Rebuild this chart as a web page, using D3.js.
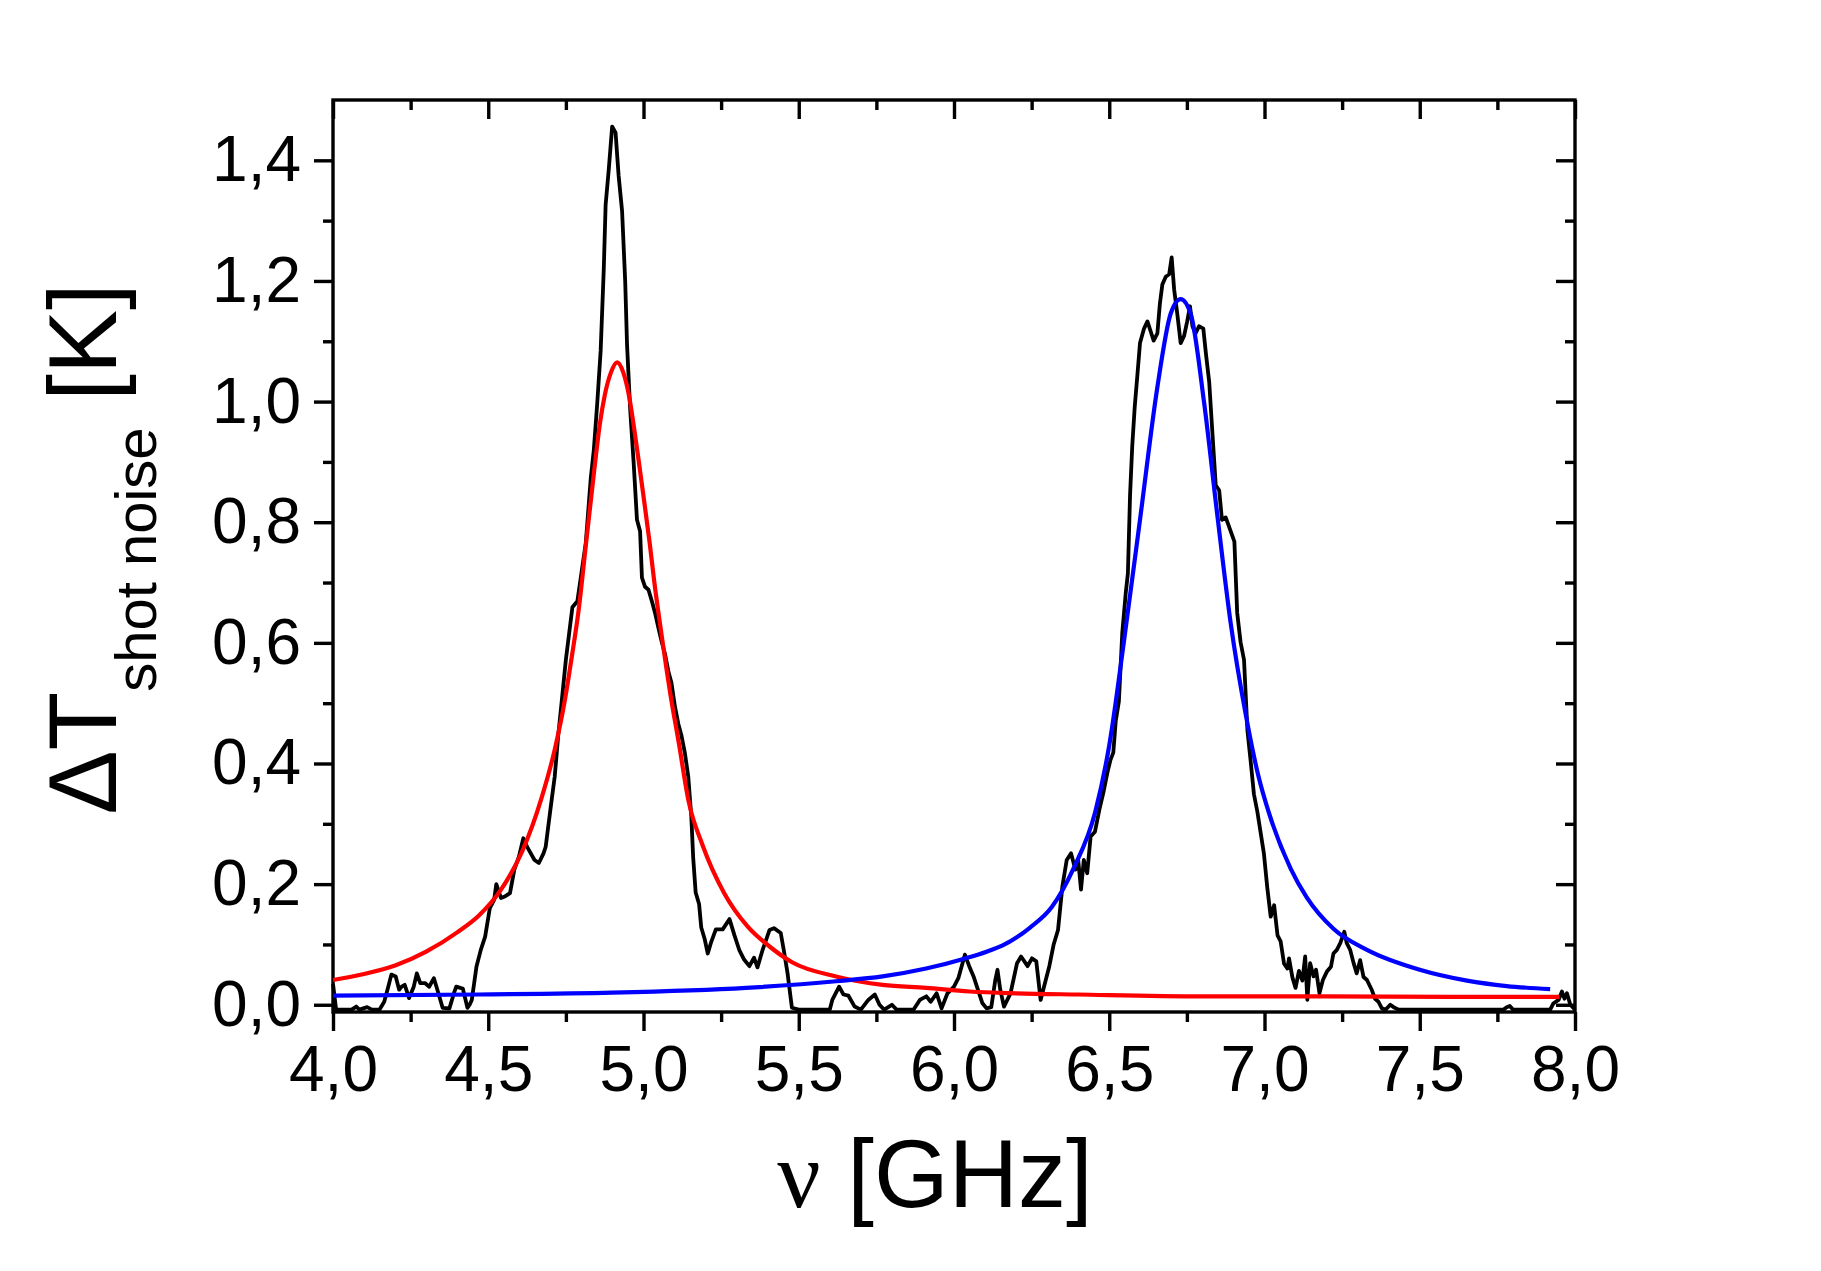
<!DOCTYPE html>
<html>
<head>
<meta charset="utf-8">
<script src="https://cdn.jsdelivr.net/npm/d3@7"></script>
<style>
  html, body { margin: 0; padding: 0; background: #fff; }
  svg { display: block; }
</style>
</head>
<body>
<svg></svg>
<script>
// ===== données : [fréquence GHz, ΔT K] ===== //
const mesure = [
  [4.000,0.035],[4.010,-0.008],[4.060,-0.008],[4.075,-0.003],[4.085,-0.008],[4.110,-0.004],[4.125,-0.008],
  [4.150,-0.008],[4.165,0.005],[4.178,0.030],[4.188,0.050],[4.202,0.047],[4.213,0.025],[4.221,0.030],
  [4.231,0.033],[4.245,0.011],[4.260,0.030],[4.270,0.052],[4.281,0.036],[4.296,0.036],[4.310,0.030],
  [4.325,0.044],[4.339,0.020],[4.353,-0.005],[4.375,-0.006],[4.390,0.020],[4.397,0.030],[4.410,0.028],
  [4.418,0.027],[4.433,-0.005],[4.440,0.000],[4.447,0.008],[4.462,0.063],[4.476,0.091],[4.490,0.113],
  [4.505,0.160],[4.519,0.174],[4.526,0.200],[4.541,0.177],[4.555,0.180],[4.570,0.185],[4.584,0.224],
  [4.599,0.246],[4.613,0.276],[4.627,0.260],[4.649,0.240],[4.663,0.235],[4.678,0.251],[4.685,0.262],
  [4.700,0.323],[4.714,0.378],[4.726,0.450],[4.736,0.500],[4.750,0.572],[4.771,0.659],[4.787,0.669],
  [4.814,0.765],[4.830,0.872],[4.840,0.920],[4.851,0.997],[4.862,1.084],[4.872,1.219],[4.878,1.326],
  [4.888,1.384],[4.899,1.456],[4.910,1.446],[4.920,1.374],[4.931,1.316],[4.941,1.200],[4.947,1.094],
  [4.957,0.988],[4.968,0.901],[4.979,0.804],[4.989,0.785],[4.995,0.708],[5.005,0.693],[5.016,0.688],
  [5.027,0.669],[5.037,0.650],[5.048,0.625],[5.059,0.601],[5.069,0.582],[5.080,0.553],[5.090,0.534],
  [5.101,0.495],[5.112,0.466],[5.122,0.447],[5.133,0.418],[5.144,0.379],[5.154,0.312],[5.160,0.244],
  [5.168,0.186],[5.179,0.167],[5.186,0.128],[5.197,0.109],[5.207,0.085],[5.218,0.104],[5.233,0.125],
  [5.255,0.125],[5.277,0.142],[5.293,0.115],[5.309,0.090],[5.324,0.075],[5.341,0.064],[5.356,0.078],
  [5.367,0.062],[5.383,0.090],[5.406,0.124],[5.420,0.127],[5.442,0.119],[5.452,0.090],[5.464,0.052],
  [5.478,-0.005],[5.500,-0.008],[5.600,-0.008],[5.608,0.008],[5.630,0.030],[5.644,0.017],[5.660,0.015],
  [5.680,-0.003],[5.700,-0.008],[5.724,0.008],[5.745,0.017],[5.760,0.000],[5.775,-0.008],[5.800,0.000],
  [5.815,-0.008],[5.870,-0.008],[5.890,0.008],[5.911,0.014],[5.925,0.005],[5.944,0.019],[5.960,-0.006],
  [5.979,0.019],[6.000,0.030],[6.014,0.044],[6.035,0.083],[6.049,0.064],[6.063,0.047],[6.077,0.025],
  [6.091,0.003],[6.105,-0.006],[6.120,-0.004],[6.133,0.041],[6.140,0.058],[6.149,0.025],[6.161,-0.003],
  [6.182,0.019],[6.203,0.069],[6.216,0.080],[6.237,0.064],[6.251,0.077],[6.265,0.072],[6.279,0.008],
  [6.293,0.036],[6.307,0.064],[6.321,0.100],[6.335,0.124],[6.349,0.196],[6.363,0.240],[6.377,0.251],
  [6.391,0.224],[6.400,0.240],[6.409,0.191],[6.418,0.240],[6.429,0.218],[6.440,0.279],[6.454,0.287],
  [6.468,0.323],[6.482,0.354],[6.494,0.385],[6.504,0.406],[6.513,0.418],[6.521,0.471],[6.531,0.503],
  [6.542,0.617],[6.553,0.682],[6.560,0.715],[6.567,0.845],[6.574,0.926],[6.582,0.991],[6.590,1.040],
  [6.599,1.097],[6.612,1.121],[6.623,1.133],[6.633,1.117],[6.643,1.101],[6.655,1.113],[6.663,1.162],
  [6.671,1.194],[6.682,1.207],[6.693,1.211],[6.701,1.239],[6.709,1.186],[6.719,1.146],[6.730,1.097],
  [6.741,1.109],[6.751,1.133],[6.760,1.158],[6.768,1.125],[6.778,1.113],[6.789,1.125],[6.803,1.121],
  [6.811,1.081],[6.822,1.032],[6.832,0.950],[6.843,0.861],[6.854,0.853],[6.863,0.804],[6.875,0.808],
  [6.889,0.788],[6.903,0.768],[6.912,0.650],[6.923,0.601],[6.934,0.572],[6.945,0.455],[6.955,0.406],
  [6.966,0.349],[6.977,0.320],[6.988,0.284],[6.998,0.251],[7.009,0.194],[7.020,0.146],[7.031,0.165],
  [7.042,0.115],[7.052,0.105],[7.063,0.068],[7.074,0.060],[7.079,0.077],[7.090,0.045],[7.100,0.028],
  [7.111,0.056],[7.122,0.040],[7.131,0.080],[7.138,0.008],[7.147,0.069],[7.158,0.047],[7.166,0.058],
  [7.177,0.019],[7.188,0.041],[7.201,0.055],[7.214,0.063],[7.222,0.085],[7.233,0.091],[7.244,0.102],
  [7.257,0.121],[7.265,0.102],[7.276,0.091],[7.287,0.069],[7.297,0.052],[7.308,0.074],[7.319,0.046],
  [7.330,0.041],[7.346,0.024],[7.356,0.010],[7.367,0.005],[7.378,-0.006],[7.390,-0.008],[7.405,0.000],
  [7.416,-0.004],[7.432,-0.008],[7.770,-0.008],[7.780,-0.004],[7.790,-0.002],[7.800,-0.008],[7.920,-0.008],
  [7.930,0.002],[7.947,0.008],[7.958,0.022],[7.966,0.010],[7.974,0.019],[7.985,0.000],[8.000,-0.008]
];

// ajustement pic 1 (rouge)
const ajustRouge = [
  [4.000,0.041],[4.100,0.051],[4.200,0.065],[4.300,0.088],[4.400,0.120],[4.470,0.148],[4.540,0.190],
  [4.610,0.255],[4.670,0.340],[4.715,0.425],[4.745,0.500],[4.770,0.580],[4.790,0.650],[4.815,0.765],
  [4.840,0.880],[4.860,0.965],[4.875,1.010],[4.895,1.048],[4.915,1.065],[4.935,1.048],[4.955,1.005],
  [4.970,0.955],[4.985,0.900],[5.000,0.843],[5.020,0.765],[5.035,0.700],[5.055,0.625],[5.085,0.520],
  [5.115,0.430],[5.145,0.338],[5.190,0.265],[5.260,0.185],[5.335,0.130],[5.405,0.097],[5.480,0.070],
  [5.620,0.047],[5.770,0.033],[5.910,0.028],[6.050,0.022],[6.200,0.019],[6.400,0.017],[6.800,0.014],
  [7.200,0.014],[7.600,0.013],[7.950,0.013]
];

// ajustement pic 2 (bleu)
const ajustBleu = [
  [4.000,0.015],[4.470,0.017],[4.900,0.020],[5.330,0.028],[5.620,0.039],[5.770,0.047],[5.910,0.060],
  [6.030,0.076],[6.105,0.088],[6.155,0.098],[6.245,0.128],[6.315,0.162],[6.385,0.226],[6.455,0.320],
  [6.500,0.430],[6.547,0.601],[6.601,0.812],[6.655,1.024],[6.698,1.146],[6.730,1.170],[6.762,1.146],
  [6.805,1.000],[6.848,0.812],[6.891,0.633],[6.940,0.480],[6.980,0.380],[7.013,0.320],[7.085,0.225],
  [7.136,0.178],[7.222,0.126],[7.330,0.091],[7.500,0.058],[7.652,0.040],[7.780,0.031],[7.920,0.026]
];

const xTicksMaj = [4.0,4.5,5.0,5.5,6.0,6.5,7.0,7.5,8.0];
const xTickLabels = ["4,0","4,5","5,0","5,5","6,0","6,5","7,0","7,5","8,0"];
const xTicksMin = [4.25,4.75,5.25,5.75,6.25,6.75,7.25,7.75];
const yTicksMaj = [0,0.2,0.4,0.6,0.8,1.0,1.2,1.4];
const yTickLabels = ["0,0","0,2","0,4","0,6","0,8","1,0","1,2","1,4"];
const yTicksMin = [0.1,0.3,0.5,0.7,0.9,1.1,1.3];

// ===== mise en page ===== //
const W = 1821, H = 1271;
const gauche = 333, droite = 1575, haut = 100, bas = 1012;
const police = "'Liberation Sans', Arial, Helvetica, sans-serif";

const svg = d3.select("svg").attr("width", W).attr("height", H);

const x = d3.scaleLinear().domain([4, 8]).range([gauche, droite]);
const y = d3.scaleLinear().domain([-0.012, 1.5]).range([bas, haut]);

// axes (majeurs + mineurs)
function axe(gen, transl, valeurs, taille, labels, padding) {
  const g = svg.append("g").attr("transform", transl)
    .call(gen.tickValues(valeurs).tickSize(taille).tickSizeOuter(0)
      .tickPadding(padding || 0)
      .tickFormat(labels ? (d, i) => labels[i] : ""));
  g.select(".domain").remove();
  g.selectAll(".tick line").attr("stroke", "#000").attr("stroke-width", 3.4);
  g.selectAll("text").attr("fill", "#000").style("font-family", police).style("font-size", "64px");
  return g;
}

axe(d3.axisBottom(x), `translate(0,${bas})`, xTicksMaj, 19, xTickLabels, 15);
axe(d3.axisBottom(x), `translate(0,${bas})`, xTicksMin, 10);
axe(d3.axisTop(x), `translate(0,${haut})`, xTicksMaj, -19);
axe(d3.axisTop(x), `translate(0,${haut})`, xTicksMin, -10);
axe(d3.axisLeft(y), `translate(${gauche},0)`, yTicksMaj, 19, yTickLabels, 13);
axe(d3.axisLeft(y), `translate(${gauche},0)`, yTicksMin, 10);
axe(d3.axisRight(y), `translate(${droite},0)`, yTicksMaj, -19);
axe(d3.axisRight(y), `translate(${droite},0)`, yTicksMin, -10);

// cadre
svg.append("rect")
  .attr("x", gauche).attr("y", haut)
  .attr("width", droite - gauche).attr("height", bas - haut)
  .attr("fill", "none").attr("stroke", "#000").attr("stroke-width", 3.4);

// courbes
const ligne = d3.line().x(d => x(d[0])).y(d => y(d[1]));
const lisse = d3.line().x(d => x(d[0])).y(d => y(d[1])).curve(d3.curveMonotoneX);

svg.append("path").datum(mesure)
  .attr("d", ligne).attr("fill", "none")
  .attr("stroke", "#000").attr("stroke-width", 3.8).attr("stroke-linejoin", "round");

svg.append("path").datum(ajustRouge)
  .attr("d", lisse).attr("fill", "none")
  .attr("stroke", "#ff0000").attr("stroke-width", 4.2);

svg.append("path").datum(ajustBleu)
  .attr("d", lisse).attr("fill", "none")
  .attr("stroke", "#0000ff").attr("stroke-width", 4.2);

// titre axe x
const tx = svg.append("text")
  .attr("x", 935).attr("y", 1207)
  .attr("text-anchor", "middle")
  .style("font-family", police).style("font-size", "96px");
tx.append("tspan").style("font-family", "'Liberation Serif', 'Times New Roman', serif").text("ν");
tx.append("tspan").text(" [GHz]");

// titre axe y
const ty = svg.append("text")
  .attr("transform", "translate(116,549) rotate(-90)")
  .attr("text-anchor", "middle")
  .style("font-family", police).style("font-size", "96px");
ty.append("tspan").text("ΔT");
ty.append("tspan").attr("dy", 40).style("font-size", "58px").text("shot noise");
ty.append("tspan").attr("dy", -40).text(" [K]");
</script>
</body>
</html>
